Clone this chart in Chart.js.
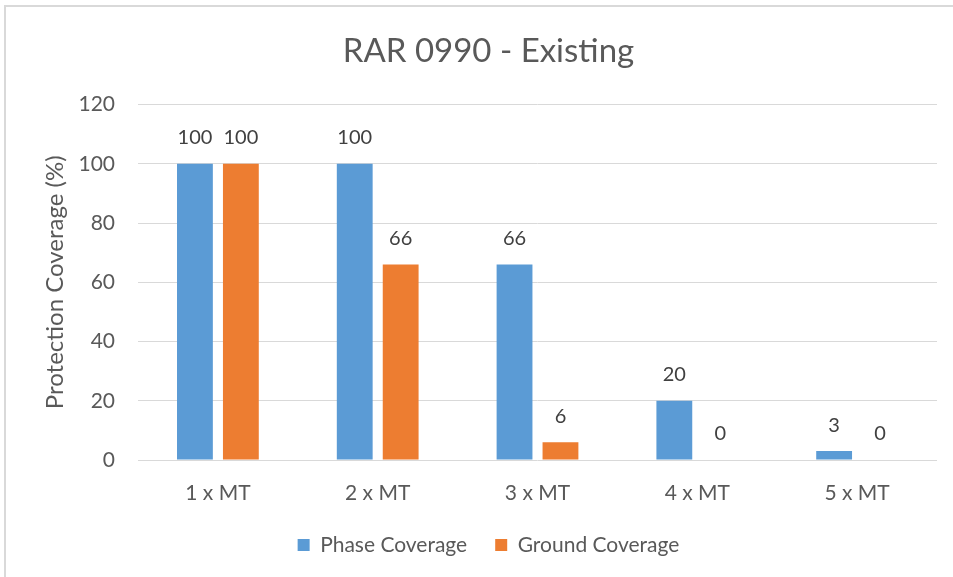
<!DOCTYPE html>
<html>
<head>
<meta charset="utf-8">
<script src="https://cdn.jsdelivr.net/npm/chart.js@4.4.1/dist/chart.umd.min.js"></script>
<style>
    body { margin: 0; background: #fff; }
    #wrap { position: relative; width: 953px; height: 577px; overflow: hidden; }
    #frame { position: absolute; left: 4px; top: 5px; width: 990px; height: 620px; border: 2px solid #d9d9d9; pointer-events: none; }
</style>
</head>
<body>
<div id="wrap">
    <canvas id="coverageChart" width="953" height="577"></canvas>
    <div id="frame"></div>
</div>
<script>
const categories = ["1 x MT", "2 x MT", "3 x MT", "4 x MT", "5 x MT"];
const phaseCoverage = [100, 100, 66, 20, 3];
const groundCoverage = [100, 66, 6, 0, 0];
const yTicks = [0, 20, 40, 60, 80, 100, 120];

const fontFamily = "Lato, 'Open Sans', sans-serif";
const textColor = "#595959";

// simple value labels above each bar
const barLabels = {
    id: "barLabels",
    afterDatasetsDraw(chart) {
        const c = chart.ctx;
        c.save();
        c.font = "20px " + fontFamily;
        c.fillStyle = "#404040";
        c.textAlign = "center";
        c.textBaseline = "middle";
        chart.data.datasets.forEach((ds, i) => {
            chart.getDatasetMeta(i).data.forEach((bar, j) => {
                c.fillText(String(ds.data[j]), bar.x, bar.y - 26);
            });
        });
        c.restore();
    },
};

const ctx = document.getElementById("coverageChart");
new Chart(ctx, {
    type: "bar",
    data: {
        labels: categories,
        datasets: [
            {
                label: "Phase Coverage",
                data: phaseCoverage,
                backgroundColor: "#5B9BD5",
                barPercentage: 0.78,
                categoryPercentage: 0.575,
            },
            {
                label: "Ground Coverage",
                data: groundCoverage,
                backgroundColor: "#ED7D31",
                barPercentage: 0.78,
                categoryPercentage: 0.575,
            },
        ],
    },
    options: {
        responsive: false,
        animation: false,
        layout: {
            padding: { top: 32, left: 40, right: 16, bottom: 11.5 },
        },
        plugins: {
            title: {
                display: true,
                text: "RAR 0990 - Existing",
                color: textColor,
                font: { family: fontFamily, size: 33, weight: "normal" },
                padding: { top: 0, bottom: 33 },
            },
            legend: {
                position: "bottom",
                labels: {
                    color: textColor,
                    font: { family: fontFamily, size: 21 },
                    boxWidth: 12,
                    boxHeight: 12,
                    padding: 28,
                },
            },
            tooltip: { enabled: false },
        },
        scales: {
            y: {
                min: 0,
                max: 120,
                afterBuildTicks(scale) {
                    scale.ticks = yTicks.map((v) => ({ value: v }));
                },
                afterFit(scale) {
                    scale.width = 98;
                },
                title: {
                    display: true,
                    text: "Protection Coverage (%)",
                    color: textColor,
                    font: { family: fontFamily, size: 24 },
                    padding: { top: 1, bottom: 0 },
                },
                ticks: {
                    color: textColor,
                    font: { family: fontFamily, size: 21 },
                    padding: 23,
                },
                grid: {
                    color: "#d9d9d9",
                    drawTicks: false,
                },
                border: { display: false },
            },
            x: {
                afterFit(scale) {
                    scale.height = 46.5;
                },
                ticks: {
                    color: textColor,
                    font: { family: fontFamily, size: 21 },
                    padding: 21,
                },
                grid: { display: false, drawTicks: false },
                border: { display: false },
            },
        },
    },
    plugins: [barLabels],
});
</script>
</body>
</html>
